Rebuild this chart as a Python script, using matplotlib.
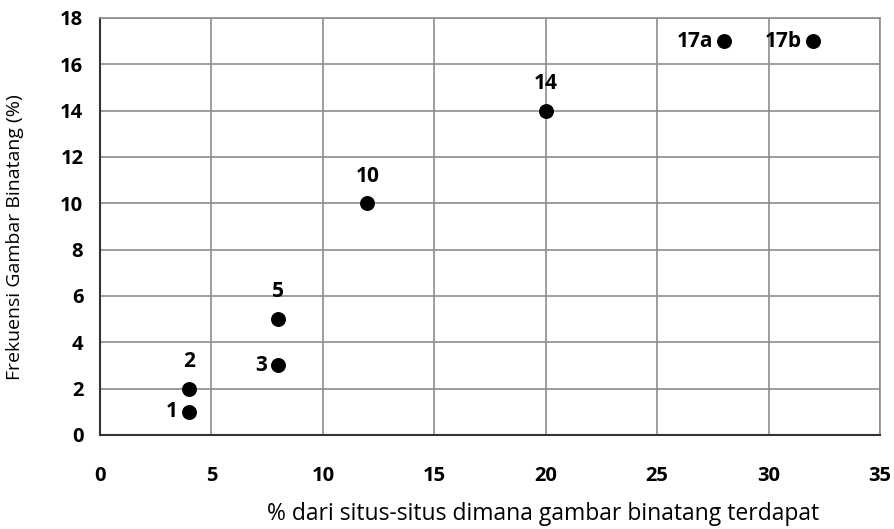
import matplotlib.pyplot as plt

# data
site_pct = [4, 4, 8, 8, 12, 20, 28, 32]
freq_pct = [1, 2, 3, 5, 10, 14, 17, 17]
point_labels = ['1', '2', '3', '5', '10', '14', '17a', '17b']
label_side = ['left', 'above', 'left', 'above', 'above', 'above', 'left', 'left']

plt.rcParams['font.family'] = ['Open Sans', 'DejaVu Sans']

fig = plt.figure(figsize=(8.95, 5.29), dpi=100)
ax = fig.add_axes([0.1117, 0.1777, 0.8715, 0.7883])

ax.scatter(site_pct, freq_pct, s=95, color='black', zorder=3)

for x, y, lab, side in zip(site_pct, freq_pct, point_labels, label_side):
    if side == 'above':
        ax.annotate(lab, (x, y), xytext=(0, 12), textcoords='offset points',
                    ha='center', va='bottom', fontsize=15, fontweight='bold')
    else:
        ax.annotate(lab, (x, y), xytext=(-8, 0), textcoords='offset points',
                    ha='right', va='center', fontsize=15, fontweight='bold')

ax.set_xlim(0, 35)
ax.set_ylim(0, 18)
ax.set_xticks(range(0, 36, 5))
ax.set_yticks(range(0, 19, 2))
ax.grid(True, color='#8c8c8c', linewidth=1.2)
ax.set_axisbelow(True)
ax.tick_params(length=0, labelsize=14.5)
ax.tick_params(axis='x', pad=22)
ax.tick_params(axis='y', pad=12)
for t in ax.get_xticklabels() + ax.get_yticklabels():
    t.set_fontweight('bold')

for side in ['top', 'right']:
    ax.spines[side].set_color('#8c8c8c')
    ax.spines[side].set_linewidth(1.2)
for side in ['left', 'bottom']:
    ax.spines[side].set_color('#333333')
    ax.spines[side].set_linewidth(1.5)

ax.set_xlabel('% dari situs-situs dimana gambar binatang terdapat', fontsize=16.5, va='center')
ax.set_ylabel('Frekuensi Gambar Binatang (%)', fontsize=14, va='center')
ax.xaxis.set_label_coords(0.568, -0.19)
ax.yaxis.set_label_coords(-0.109, 0.475)

fig.savefig('out.png', dpi=100)
